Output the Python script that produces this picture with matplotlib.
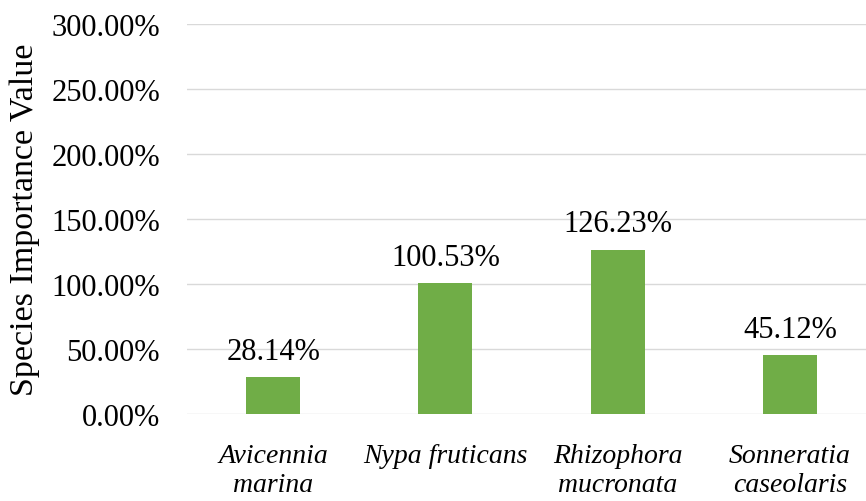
import matplotlib
matplotlib.use("Agg")
import matplotlib.pyplot as plt
from matplotlib.ticker import FuncFormatter

categories = ["Avicennia\nmarina", "Nypa fruticans", "Rhizophora\nmucronata", "Sonneratia\ncaseolaris"]
values = [28.14, 100.53, 126.23, 45.12]
y_ticks = [0, 50, 100, 150, 200, 250, 300]

plt.rcParams['font.family'] = ['Liberation Serif', 'DejaVu Serif']

fig = plt.figure(figsize=(8.66, 5.02), dpi=100)
ax = fig.add_axes([0.2159, 0.1733, 0.7956, 0.7767])

x = list(range(len(categories)))
bars = ax.bar(x, values, width=0.313, color="#70AD47", zorder=3)
ax.set_xlim(-0.5, len(categories) - 0.5)
ax.set_ylim(0, 300)
ax.set_yticks(y_ticks)
ax.yaxis.set_major_formatter(FuncFormatter(lambda v, p: f"{v:.2f}%"))
ax.grid(axis="y", color="#d9d9d9", linewidth=1.0, zorder=0)
for s in ax.spines.values():
    s.set_visible(False)
ax.tick_params(axis="both", length=0, colors="black")
ax.tick_params(axis="y", pad=19.5, labelsize=22)
ax.set_xticks(x)
ax.set_xticklabels(categories, fontstyle="italic", fontsize=20, linespacing=1.22)
ax.tick_params(axis="x", pad=21)
ax.set_ylabel("Species Importance Value", fontsize=24.5, labelpad=8)

for xi, v in zip(x, values):
    ax.annotate(f"{v:.2f}%", (xi, v), xytext=(0, 13.5), textcoords="offset points",
                ha="center", va="baseline", fontsize=22)

fig.savefig("out.png", dpi=100)
